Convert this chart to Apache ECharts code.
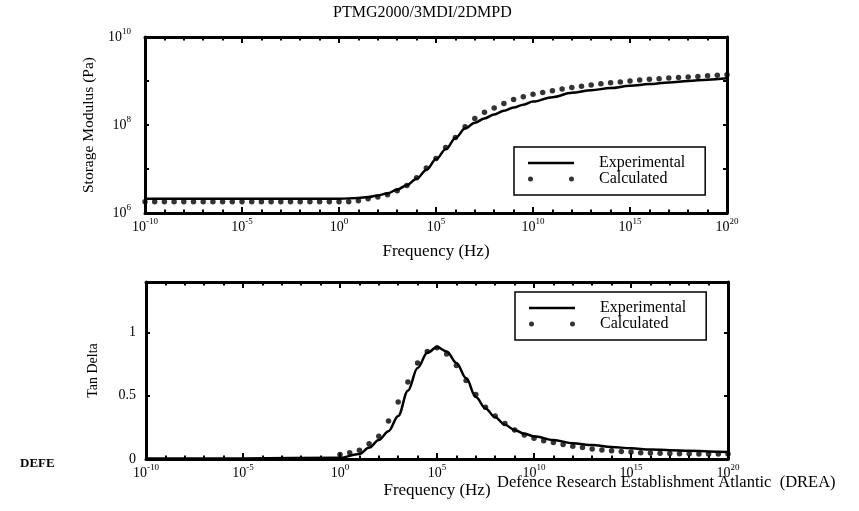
<!DOCTYPE html>
<html>
<head>
<meta charset="utf-8">
<script src="https://cdn.jsdelivr.net/npm/echarts@6/dist/echarts.min.js"></script>
<style>
  html, body { margin: 0; padding: 0; background: #fff; }
  #chart { width: 859px; height: 511px; }
</style>
</head>
<body>
<div id="chart"></div>
<script>
// Frequency exponents (log10 Hz) for the measured master curves
const expFreqLog = [-10, -5, 0, 1, 1.5, 2, 2.5, 3, 3.5, 4, 4.5, 5, 5.5, 6, 6.5, 7, 7.5, 8, 8.5, 9, 9.5, 10, 11, 12, 13, 14, 15, 16, 17, 18, 19, 20];
// Measured storage modulus (Pa)
const storageExp = [2.1e6, 2.1e6, 2.1e6, 2.2e6, 2.3e6, 2.5e6, 2.8e6, 3.4e6, 4.3e6, 6.0e6, 9.5e6, 1.66e7, 2.8e7, 5.0e7, 8.3e7, 1.12e8, 1.41e8, 1.74e8, 2.1e8, 2.5e8, 2.9e8, 3.4e8, 4.3e8, 5.4e8, 6.2e8, 6.9e8, 7.8e8, 8.5e8, 9.3e8, 1.0e9, 1.07e9, 1.15e9];
// Measured loss tangent
const tanDeltaExp = [0.004, 0.004, 0.01, 0.04, 0.09, 0.15, 0.22, 0.34, 0.54, 0.72, 0.84, 0.885, 0.85, 0.76, 0.64, 0.49, 0.40, 0.33, 0.27, 0.23, 0.20, 0.18, 0.15, 0.125, 0.11, 0.095, 0.085, 0.075, 0.07, 0.065, 0.06, 0.055];

// Frequency exponents for the calculated storage modulus (half-decade steps)
const calcStorageFreqLog = [-10, -9.5, -9, -8.5, -8, -7.5, -7, -6.5, -6, -5.5, -5, -4.5, -4, -3.5, -3, -2.5, -2, -1.5, -1, -0.5, 0, 0.5, 1, 1.5, 2, 2.5, 3, 3.5, 4, 4.5, 5, 5.5, 6, 6.5, 7, 7.5, 8, 8.5, 9, 9.5, 10, 10.5, 11, 11.5, 12, 12.5, 13, 13.5, 14, 14.5, 15, 15.5, 16, 16.5, 17, 17.5, 18, 18.5, 19, 19.5, 20];
// Calculated storage modulus (Pa)
const storageCalc = [1.8e6, 1.8e6, 1.8e6, 1.8e6, 1.8e6, 1.8e6, 1.8e6, 1.8e6, 1.8e6, 1.8e6, 1.8e6, 1.8e6, 1.8e6, 1.8e6, 1.8e6, 1.8e6, 1.8e6, 1.8e6, 1.8e6, 1.8e6, 1.8e6, 1.8e6, 1.9e6, 2.1e6, 2.3e6, 2.6e6, 3.2e6, 4.2e6, 6.3e6, 1.05e7, 1.74e7, 3.1e7, 5.2e7, 9.1e7, 1.41e8, 1.95e8, 2.45e8, 3.1e8, 3.8e8, 4.4e8, 5.0e8, 5.5e8, 6.0e8, 6.6e8, 7.1e8, 7.6e8, 8.1e8, 8.7e8, 9.1e8, 9.5e8, 1.0e9, 1.05e9, 1.1e9, 1.12e9, 1.17e9, 1.2e9, 1.23e9, 1.26e9, 1.32e9, 1.35e9, 1.38e9];

// Frequency exponents for the calculated loss tangent
const calcTanFreqLog = [0, 0.5, 1, 1.5, 2, 2.5, 3, 3.5, 4, 4.5, 5, 5.5, 6, 6.5, 7, 7.5, 8, 8.5, 9, 9.5, 10, 10.5, 11, 11.5, 12, 12.5, 13, 13.5, 14, 14.5, 15, 15.5, 16, 16.5, 17, 17.5, 18, 18.5, 19, 19.5, 20];
// Calculated loss tangent
const tanDeltaCalc = [0.035, 0.05, 0.07, 0.12, 0.18, 0.30, 0.45, 0.61, 0.76, 0.85, 0.88, 0.83, 0.74, 0.62, 0.51, 0.41, 0.34, 0.28, 0.23, 0.19, 0.165, 0.145, 0.13, 0.115, 0.10, 0.09, 0.08, 0.072, 0.065, 0.06, 0.055, 0.05, 0.048, 0.046, 0.044, 0.042, 0.041, 0.04, 0.04, 0.04, 0.04];

const seriesNames = ['Experimental', 'Calculated'];
const titleText = 'PTMG2000/3MDI/2DMPD';
const freqAxisName = 'Frequency (Hz)';
const storageAxisName = 'Storage Modulus (Pa)';
const tanAxisName = 'Tan Delta';
const footerText = 'Defence Research Establishment Atlantic  (DREA)';
const cornerText = 'DEFE';

const serif = "'Liberation Serif', 'Times New Roman', serif";
const pairs = (xs, ys) => xs.map((e, i) => [Math.pow(10, e), ys[i]]);

// power-of-ten label with a raised exponent
const powRich = {
  b: { fontFamily: serif, fontSize: 14, color: '#000', lineHeight: 14, verticalAlign: 'bottom' },
  s: { fontFamily: serif, fontSize: 9, color: '#000', lineHeight: 9, padding: [0, 0, 8, 0], verticalAlign: 'bottom' }
};
const powLabel = step => v => {
  const e = Math.round(Math.log10(v));
  return e % step === 0 ? '{b|10}{s|' + e + '}' : '';
};

const frame = { show: true, onZero: false, lineStyle: { color: '#000', width: 3 } };
const tickStyle = len => ({ show: true, inside: true, length: len, lineStyle: { color: '#000', width: 2 } });

// frequency axis: the framed one carries the decade-of-five ticks and labels,
// a bare companion adds the short per-decade ticks
function freqAxis(grid, pos, labelled, nameGap) {
  return {
    type: 'log', logBase: 10, gridIndex: grid, position: pos,
    min: 1e-10, max: 1e20, interval: 5,
    axisLine: frame, axisTick: tickStyle(6), splitLine: { show: false },
    axisLabel: labelled ? { show: true, margin: 7, formatter: powLabel(5), rich: powRich } : { show: false },
    name: labelled ? freqAxisName : '', nameLocation: 'middle', nameGap: nameGap,
    nameTextStyle: { fontFamily: serif, fontSize: 17, color: '#000' }
  };
}
function decadeAxis(grid, pos) {
  return {
    type: 'log', logBase: 10, gridIndex: grid, position: pos,
    min: 1e-10, max: 1e20, interval: 1,
    axisLine: { show: false, onZero: false }, axisTick: tickStyle(3.5),
    splitLine: { show: false }, axisLabel: { show: false }
  };
}

// legend glyphs: a solid stroke for the measured curve, a pair of dots for the calculated one
const lineIcon = 'path://M0,0L0,0M0,2.5L92,2.5L92,7.5L0,7.5ZM0,10L0,10';
const dotsIcon = 'path://M0,5a5,5 0 1,0 10,0a5,5 0 1,0 -10,0M82,5a5,5 0 1,0 10,0a5,5 0 1,0 -10,0';
function legendBox(top, left) {
  return {
    orient: 'vertical', left: left, top: top,
    borderColor: '#000', borderWidth: 1.5, borderRadius: 0,
    padding: [8, 20, 8, 14], itemGap: 0, itemWidth: 46, itemHeight: 5,
    selectedMode: false,
    textStyle: { fontFamily: serif, fontSize: 16, color: '#000', padding: [0, 0, 0, 20] },
    data: [{ name: seriesNames[0], icon: lineIcon }, { name: seriesNames[1], icon: dotsIcon }]
  };
}

const chart = echarts.init(document.getElementById('chart'), null, { renderer: 'canvas' });
chart.setOption({
  backgroundColor: '#fff',
  animation: false,
  title: [
    { text: titleText, left: 333, top: 5, padding: 0, textStyle: { fontFamily: serif, fontSize: 16, fontWeight: 'normal', color: '#000' } },
    { text: footerText, left: 497, top: 474, padding: 0, textStyle: { fontFamily: serif, fontSize: 16.5, fontWeight: 'normal', color: '#000' } },
    { text: cornerText, left: 20, top: 457, padding: 0, textStyle: { fontFamily: serif, fontSize: 13, fontWeight: 'bold', color: '#000' } }
  ],
  legend: [legendBox(147, 514), legendBox(292, 515)],
  grid: [
    { left: 145, top: 37, width: 582, height: 176 },
    { left: 146, top: 282, width: 582, height: 177 }
  ],
  xAxis: [
    freqAxis(0, 'bottom', true, 30),
    freqAxis(0, 'top', false, 0),
    decadeAxis(0, 'bottom'),
    decadeAxis(0, 'top'),
    freqAxis(1, 'bottom', true, 23),
    freqAxis(1, 'top', false, 0),
    decadeAxis(1, 'bottom'),
    decadeAxis(1, 'top')
  ],
  yAxis: [
    {
      type: 'log', logBase: 10, gridIndex: 0, position: 'left', min: 1e6, max: 1e10, interval: 1,
      axisLine: frame, axisTick: tickStyle(4), splitLine: { show: false },
      axisLabel: { margin: 14, formatter: powLabel(2), rich: powRich },
      name: storageAxisName, nameLocation: 'middle', nameGap: 46, nameRotate: 90,
      nameTextStyle: { fontFamily: serif, fontSize: 15.5, color: '#000' }
    },
    {
      type: 'log', logBase: 10, gridIndex: 0, position: 'right', min: 1e6, max: 1e10, interval: 1,
      axisLine: frame, axisTick: tickStyle(4), splitLine: { show: false }, axisLabel: { show: false }
    },
    {
      type: 'value', gridIndex: 1, position: 'left', min: 0, max: 1.4, interval: 0.5,
      axisLine: frame, axisTick: tickStyle(4), splitLine: { show: false },
      axisLabel: {
        margin: 10, fontFamily: serif, fontSize: 14, color: '#000',
        formatter: v => (Math.abs(v * 2 - Math.round(v * 2)) < 1e-9 ? String(v) : '')
      },
      name: tanAxisName, nameLocation: 'middle', nameGap: 46, nameRotate: 90,
      nameTextStyle: { fontFamily: serif, fontSize: 14, color: '#000' }
    },
    {
      type: 'value', gridIndex: 1, position: 'right', min: 0, max: 1.4, interval: 0.5,
      axisLine: frame, axisTick: tickStyle(4), splitLine: { show: false }, axisLabel: { show: false }
    }
  ],
  series: [
    {
      name: seriesNames[0], type: 'line', xAxisIndex: 0, yAxisIndex: 0,
      data: pairs(expFreqLog, storageExp), symbol: 'none', smooth: 0.35, smoothMonotone: 'x',
      lineStyle: { color: '#000', width: 2.5 }, itemStyle: { color: '#000' }
    },
    {
      name: seriesNames[1], type: 'scatter', xAxisIndex: 0, yAxisIndex: 0,
      data: pairs(calcStorageFreqLog, storageCalc), symbol: 'circle', symbolSize: 5.5,
      itemStyle: { color: '#000' }
    },
    {
      name: seriesNames[0], type: 'line', xAxisIndex: 4, yAxisIndex: 2,
      data: pairs(expFreqLog, tanDeltaExp), symbol: 'none', smooth: 0.35, smoothMonotone: 'x',
      lineStyle: { color: '#000', width: 2.5 }, itemStyle: { color: '#000' }
    },
    {
      name: seriesNames[1], type: 'scatter', xAxisIndex: 4, yAxisIndex: 2,
      data: pairs(calcTanFreqLog, tanDeltaCalc), symbol: 'circle', symbolSize: 5.5,
      itemStyle: { color: '#000' }
    }
  ]
});
</script>
</body>
</html>
